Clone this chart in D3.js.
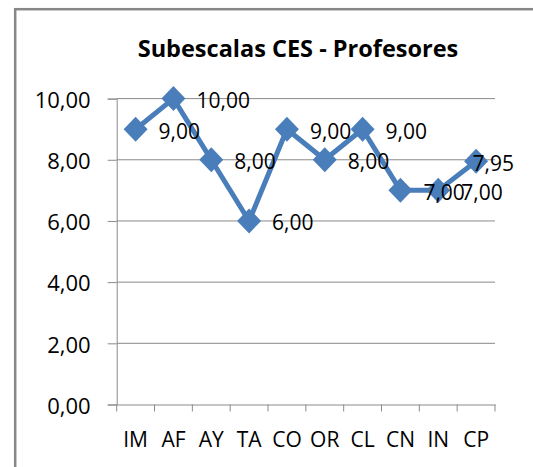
<!DOCTYPE html>
<meta charset="utf-8">
<html>
  <head>
    <script src="https://d3js.org/d3.v7.min.js"></script>
    <style>
      body { margin: 0; background: #fff; }
      text { font-family: "Open Sans", sans-serif; fill: #000; }
    </style>
  </head>
  <body>
    <svg id="chart" width="533" height="467"></svg>
    <script>
    const categories = ["IM", "AF", "AY", "TA", "CO", "OR", "CL", "CN", "IN", "CP"];
    const values = [9, 10, 8, 6, 9, 8, 9, 7, 7, 7.95];
    const yTicks = [0, 2, 4, 6, 8, 10];
    const title = "Subescalas CES - Profesores";

    const fmt = d => d3.format(".2f")(d).replace(".", ",");

    const svg = d3.select("#chart");
    const plotLeft = 116.7, plotRight = 495, plotTop = 98.6, plotBottom = 404.5;
    const blue = "#4a7ebb";
    const grey = "#8a8a8a";

    // chart area border (runs off the right and bottom of the picture)
    svg.append("rect")
      .attr("x", 15.2).attr("y", 9.2)
      .attr("width", 600).attr("height", 600)
      .attr("fill", "none")
      .attr("stroke", "#878787")
      .attr("stroke-width", 2.5);

    svg.append("text")
      .attr("x", 298).attr("y", 57)
      .attr("text-anchor", "middle")
      .style("font-weight", "bold")
      .style("font-size", "23.5px")
      .text(title);

    var x = d3.scaleBand().domain(categories).range([plotLeft, plotRight]);
    var y = d3.scaleLinear().domain([0, 10]).range([plotBottom, plotTop]);

    // gridlines
    svg.append("g")
      .selectAll("line")
      .data(yTicks.filter(d => d > 0))
      .enter()
      .append("line")
      .attr("x1", plotLeft).attr("x2", plotRight)
      .attr("y1", d => y(d)).attr("y2", d => y(d))
      .attr("stroke", grey).attr("stroke-width", 1);

    var yAxis = svg.append("g")
      .attr("transform", "translate(" + plotLeft + ",0)")
      .call(d3.axisLeft(y).tickValues(yTicks).tickFormat(fmt).tickSize(9).tickPadding(17));
    yAxis.select(".domain").attr("stroke", grey);
    yAxis.selectAll(".tick line").attr("stroke", grey);
    yAxis.selectAll("text").style("font-size", "22px").attr("dy", "0.4em");

    var xAxis = svg.append("g")
      .attr("transform", "translate(0," + plotBottom + ")")
      .call(d3.axisBottom(x).tickSize(0).tickSizeOuter(0).tickPadding(28));
    xAxis.select(".domain").attr("stroke", grey);
    xAxis.selectAll("text").style("font-size", "21px");

    // category boundary ticks
    svg.append("g")
      .selectAll("line")
      .data(d3.range(categories.length + 1))
      .enter()
      .append("line")
      .attr("x1", i => plotLeft + i * x.step())
      .attr("x2", i => plotLeft + i * x.step())
      .attr("y1", plotBottom).attr("y2", plotBottom + 7)
      .attr("stroke", grey);

    var cx = (d, i) => x(categories[i]) + x.bandwidth() / 2;

    svg.append("path")
      .datum(values)
      .attr("fill", "none")
      .attr("stroke", blue)
      .attr("stroke-width", 5)
      .attr("stroke-linejoin", "round")
      .attr("d", d3.line().x(cx).y(d => y(d)));

    svg.append("g")
      .selectAll("path")
      .data(values)
      .enter()
      .append("path")
      .attr("transform", (d, i) => "translate(" + cx(d, i) + "," + y(d) + ")")
      .attr("d", "M0,-12.5L12,0L0,12.5L-12,0Z")
      .attr("fill", blue);

    // data labels to the right, pulled back inside the chart area near the edge
    var labels = svg.append("g")
      .selectAll("text")
      .data(values)
      .enter()
      .append("text")
      .style("font-size", "21px")
      .attr("y", d => y(d) + 2)
      .attr("dy", "0.35em")
      .text(fmt);
    labels.each(function(d, i) {
      var w = this.getComputedTextLength();
      var lx = cx(d, i) + 23;
      if (lx + w > 514) lx = 514 - w;
      d3.select(this).attr("x", lx);
    });
    </script>
  </body>
</html>
